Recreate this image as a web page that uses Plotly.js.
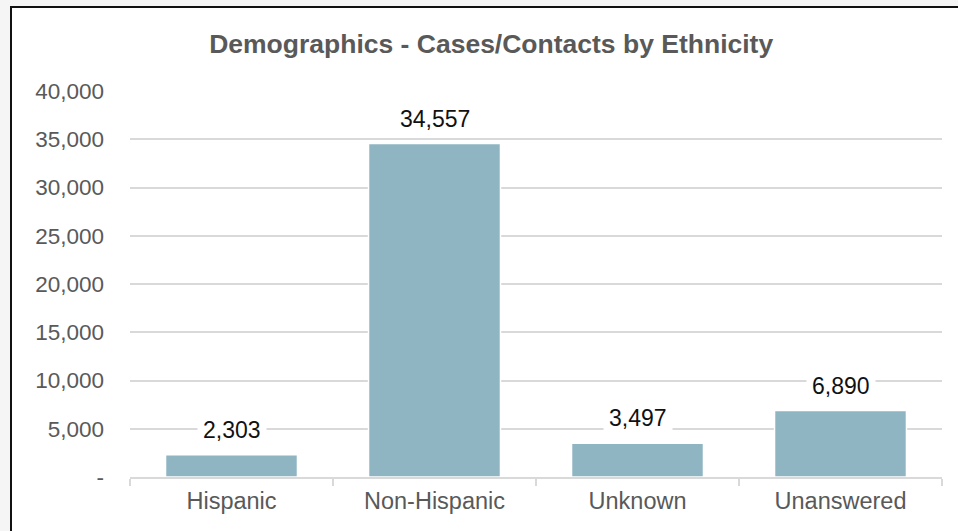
<!DOCTYPE html>
<html>
<head>
<meta charset="utf-8">
<script src="https://cdn.plot.ly/plotly-3.0.1.min.js"></script>
<style>
  html, body { margin: 0; padding: 0; background: #f5f5f5; width: 958px; height: 531px; overflow: hidden; }
  #frame { position: absolute; left: 10px; top: 6px; width: 960px; height: 540px;
           border-left: 2px solid #111; border-top: 2px solid #111; background: #fff; overflow: hidden; }
  #chart { position: absolute; left: 1px; top: 1px; width: 945px; height: 522px; }
</style>
</head>
<body>
<div id="frame"><div id="chart"></div></div>
<script>
const categories = ["Hispanic", "Non-Hispanic", "Unknown", "Unanswered"];
const counts = [2303, 34557, 3497, 6890];
const countLabels = ["2,303", "34,557", "3,497", "6,890"];
const yTickValues = [0, 5000, 10000, 15000, 20000, 25000, 30000, 35000, 40000];
const yTickLabels = ["-", "5,000", "10,000", "15,000", "20,000", "25,000", "30,000", "35,000", "40,000"];

const font = "Liberation Sans, Arial, sans-serif";

const trace = {
  type: "bar",
  x: categories,
  y: counts,
  marker: { color: "#8fb5c3", line: { color: "#ffffff", width: 1.5 } },
  hoverinfo: "x+y"
};

const annotations = categories.map((c, i) => ({
  x: c, y: counts[i], xref: "x", yref: "y",
  text: countLabels[i], showarrow: false,
  yanchor: "middle", yshift: 25,
  bgcolor: "#ffffff", borderpad: 5,
  font: { family: font, size: 23, color: "#111111" }
}));

const layout = {
  width: 945, height: 522,
  margin: { l: 117, r: 16, t: 82, b: 54 },
  paper_bgcolor: "#ffffff", plot_bgcolor: "#ffffff",
  showlegend: false,
  bargap: 0.35,
  title: {
    text: "<b>Demographics - Cases/Contacts by Ethnicity</b>",
    x: 0.506, xanchor: "center", xref: "container",
    y: 0.933, yanchor: "middle", yref: "container",
    font: { family: font, size: 26.5, color: "#595959" }
  },
  xaxis: {
    type: "category",
    showline: true, linecolor: "#d9d9d9", linewidth: 2,
    ticks: "outside", tickson: "boundaries", ticklen: 7, tickcolor: "#d9d9d9", tickwidth: 2,
    showgrid: false,
    tickfont: { family: font, size: 23.5, color: "#595959" },
    ticklabelstandoff: 2
  },
  yaxis: {
    range: [0, 40000],
    tickvals: yTickValues, ticktext: yTickLabels,
    showgrid: true, gridcolor: "#d9d9d9", gridwidth: 2,
    zeroline: false, showline: false, ticks: "",
    tickfont: { family: font, size: 22.5, color: "#595959" },
    ticklabelstandoff: 25
  },
  annotations: annotations
};

Plotly.newPlot("chart", [trace], layout, { displayModeBar: false, staticPlot: true });
</script>
</body>
</html>
